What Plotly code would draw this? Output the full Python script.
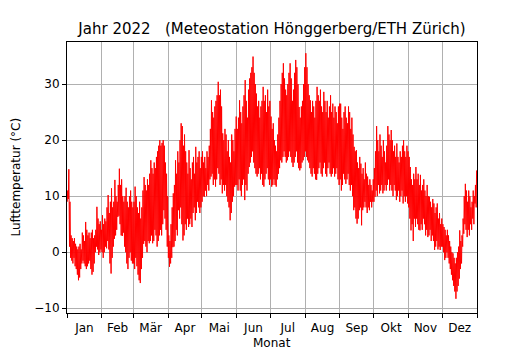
import datetime
import plotly.graph_objects as go

# Month tick labels
months = ["Jan", "Feb", "Mär", "Apr", "Mai", "Jun", "Jul", "Aug", "Sep", "Okt", "Nov", "Dez"]

# Daily maximum air temperature (°C), Jan 1 .. Dec 31 2022
t_max = [
    # Jan
    11, 14.8, 9, 3, 2.5, 2, 2.5, 1.5, 1, 0.5, 1, 1.5, 0.5, 3.5, 3, 2, 5.4, 4, 3, 3.5,
    2.5, 3.5, 4, 2.5, 3, 4, 8.1, 6, 5, 5.5, 4,
    # Feb
    6.6, 5, 6, 5.5, 8, 10.2, 7, 9, 11.4, 8, 9, 12.9, 10, 9, 12, 14.9, 12, 13, 10, 9,
    10, 11.5, 9, 8, 10, 11, 9, 8,
    # Mär
    9, 11.7, 10, 8, 7, 9, 6, 8, 11, 13.4, 12, 11, 13, 12, 14, 16.4, 15, 14, 16, 15,
    17, 18, 19, 20, 19, 19.5, 20, 19, 16, 14, 10,
    # Apr
    3, 2, 5, 8, 10.5, 12, 16.4, 14, 18, 16, 20, 23, 22.5, 19, 21, 18, 16, 14, 18.2, 15,
    13, 16, 17, 14, 18.8, 16, 17, 18, 15, 17,
    # Mai
    18, 16, 17, 15, 18, 17, 19, 22, 27.1, 25, 24, 26, 27, 28, 30.4, 28, 29, 26, 21.2, 20,
    22, 21, 18, 20, 17, 16, 21, 20, 18, 22, 24.2,
    # Jun
    22, 24, 27.1, 25, 23, 26, 28, 30.7, 27, 24, 29, 31, 32, 33, 34.9, 32, 30, 28.3, 26, 27,
    24, 26, 27, 29.5, 27, 28, 25, 29, 26, 27,
    # Jul
    24.2, 22, 23, 20, 19, 18, 21, 24, 27, 30, 32, 33.7, 31, 29, 28, 30, 32, 33.7, 31, 27,
    29, 32, 34.3, 33, 30, 25.9, 24, 26, 27, 30, 33,
    # Aug
    35.5, 33, 30, 28, 27.1, 25, 27, 26, 24, 27, 29.5, 28, 27, 29, 26, 25, 28.6, 27, 25, 27,
    24, 26, 28, 25, 26.5, 24, 26, 25, 23, 26, 26.5,
    # Sep
    26.5, 24, 22, 25, 26, 24, 23, 26, 25, 22, 24, 21, 18.8, 18, 18.2, 16, 15, 17, 15.8, 14,
    15, 13, 16, 14, 13.5, 12, 13, 12, 11, 13,
    # Okt
    15, 18, 22.5, 20, 18, 21, 19, 17, 20, 18, 16, 19, 22.5, 21, 20, 21.8, 20, 18, 19, 17,
    19.4, 17, 16, 18, 17, 19, 20, 18, 17, 19, 18,
    # Nov
    17, 15.2, 13, 12, 14, 13, 15.2, 13, 14, 12, 13.8, 11, 12, 13, 11, 10, 12, 10, 9.9, 9,
    8, 9.5, 8.7, 7, 8, 8.7, 6, 7, 5, 6,
    # Dez
    5, 4.5, 4, 3, 4, 3, 2, 1, 0, -0.2, -1, -2, -1, 0, 1, 3.9, 2, 3, 6, 10,
    12.2, 11, 9, 11, 10, 8, 9, 11, 10, 12, 14.6,
]

# Daily minimum air temperature (°C)
t_min = [
    # Jan
    9, 9.5, 1, -1, -1.5, -2, -1, -2.5, -3, -4, -5, -4.5, -3, -2, -1.5, -2, -2.5, -3, -2.5, -2,
    -1.5, -3, -4, -3.5, -2, 0, 1, 0.5, -0.5, 0, 0.5,
    # Feb
    0, -1, 0, 1, 0.7, 2, 0.5, -2, -3.8, -1, 1, 2.4, 3, 4, 6.3, 6.5, 5, 3, 2.9, 3.5,
    1, 0, -2, -3, -1, 0, -1.5, -2,
    # Mär
    -2, -3, -1, -2.5, -4, -5, -5.5, -3, -1, 1.5, 2, 1, 0, 2, 1.6, 2, 3, 1.6, 2, 4,
    3, 1, 2, 3, 4, 3, 5, 7.5, 6, 4, 1,
    # Apr
    -1, -2.6, -2, -1, 0.9, 1, 2, 4, 3, 7.5, 6, 8, 5, 2.1, 3, 5, 4, 6, 4.5, 5,
    6, 4.5, 7, 8, 5.7, 7, 9, 8, 7, 8,
    # Mai
    9, 10, 9.9, 11, 10, 12, 11, 13, 13.5, 14, 12, 13, 11.7, 13, 15, 14, 12, 13, 10.5, 12,
    11, 12, 10, 9, 8, 5.7, 7, 9, 10, 11.7, 12,
    # Jun
    12, 11, 13, 11, 10, 12, 13, 9.3, 12, 11, 14, 15.2, 16, 17, 18, 16, 15, 14, 13.5, 14,
    15, 13, 14, 12, 11.7, 13, 14, 15, 13, 12,
    # Jul
    13, 11.7, 12, 13, 12, 11.7, 13, 14, 15, 16.4, 16, 17, 18, 17, 16, 16.4, 17, 18, 17, 16,
    15.2, 16, 17, 18, 16, 15, 14.6, 15, 16, 16.4, 17,
    # Aug
    18, 17, 16.4, 16, 15, 14, 13.5, 15, 14, 13, 12.9, 14, 15, 16, 14, 13.5, 15, 16, 14, 13.5,
    15, 16, 14, 13.5, 14, 15, 13.5, 14, 15, 13, 12,
    # Sep
    13, 11, 12, 14, 13, 12.2, 13, 14, 12, 11, 12, 10, 7.5, 8, 6, 5.1, 6, 7.5, 8, 4.8,
    7.5, 8, 9, 8, 7, 8, 7.5, 9, 8, 9,
    # Okt
    9, 9.9, 11, 10, 12, 10.5, 11, 12, 10.5, 11, 12, 11, 12, 13, 11, 12, 11, 10, 12, 11,
    9.3, 10, 11, 9, 10, 11, 8.7, 10, 9, 10, 8.7,
    # Nov
    8, 6, 3.9, 5, 2, 6, 4.5, 6, 5, 4, 3.9, 5, 4, 6, 5, 3, 4, 2.7, 3, 4,
    2, 3, 2, 0.4, 1, 2, 0.5, 1, 0.4, 1,
    # Dez
    1, 0, -1.4, -1, 0, -1, -2, -3, -4, -5, -6, -7, -8.3, -7, -6, -4.7, -3, -2, 1, 3.3,
    5, 4, 2.7, 4, 3, 5, 4, 6, 5, 8.7, 8,
]

year_start = datetime.datetime(2022, 1, 1)
year_end = datetime.datetime(2023, 1, 1)

# alternate daily minimum (morning) and maximum (afternoon)
xs, ys = [], []
for i, (lo, hi) in enumerate(zip(t_min, t_max)):
    day = year_start + datetime.timedelta(days=i)
    xs += [day + datetime.timedelta(hours=6), day + datetime.timedelta(hours=15)]
    ys += [lo, hi]

month_starts = [datetime.datetime(2022, m, 1) for m in range(1, 13)] + [year_end]
month_mids = [a + (b - a) / 2 for a, b in zip(month_starts[:-1], month_starts[1:])]

# the page body has an 8 px margin, so the figure is drawn 8 px in from the window corner
W, H = 522, 342
ML, MR, MT, MB = 59, 53, 34, 37
PW, PH = W - ML - MR, H - MT - MB


def paper_x(px):  # px = window x coordinate
    return (px - 8 - ML) / PW


def paper_y(py):  # py = window y coordinate
    return (H - MB - (py - 8)) / PH


fig = go.Figure()
fig.add_trace(go.Scatter(x=xs, y=ys, mode="lines",
                         line=dict(color="#ff0000", width=1), hoverinfo="skip"))

grid = "#b0b0b0"
fig.update_layout(
    width=W, height=H,
    margin=dict(l=ML, r=MR, t=MT, b=MB, autoexpand=False),
    paper_bgcolor="white", plot_bgcolor="white",
    showlegend=False,
    font=dict(family="DejaVu Sans", size=12, color="black"),
    title=dict(text="Jahr 2022   (Meteostation Hönggerberg/ETH Zürich)",
               x=0.5, xref="paper", xanchor="center",
               y=1 - (29 - 8) / H, yref="container", yanchor="middle",
               font=dict(size=15, color="black")),
    annotations=[
        dict(text="Monat", xref="paper", yref="paper",
             x=paper_x(271.7), y=paper_y(343), xanchor="center", yanchor="middle",
             showarrow=False, font=dict(size=12)),
        dict(text="Lufttemperatur (°C)", xref="paper", yref="paper",
             x=paper_x(15), y=paper_y(177.5), xanchor="center", yanchor="middle",
             textangle=-90, showarrow=False, font=dict(size=12)),
    ],
)
fig.update_xaxes(
    type="date", range=[year_start, year_end], automargin=False,
    tickmode="array", tickvals=month_mids, ticktext=months,
    ticks="outside", ticklen=4, tickcolor="rgba(0,0,0,0)",
    showgrid=False,
    minor=dict(tickmode="array", tickvals=month_starts, ticks="outside", ticklen=4,
               tickcolor="black", tickwidth=1, showgrid=True, gridcolor=grid, gridwidth=1),
    showline=True, linecolor="black", linewidth=1, mirror=True,
    zeroline=False,
)
fig.update_yaxes(
    range=[-10.84, 37.5], automargin=False,
    tickmode="array", tickvals=[-10, 0, 10, 20, 30],
    ticks="outside", ticklen=4, tickcolor="black",
    showgrid=True, gridcolor=grid, gridwidth=1,
    showline=True, linecolor="black", linewidth=1, mirror=True,
    zeroline=False,
)

fig.write_html("out.html")
